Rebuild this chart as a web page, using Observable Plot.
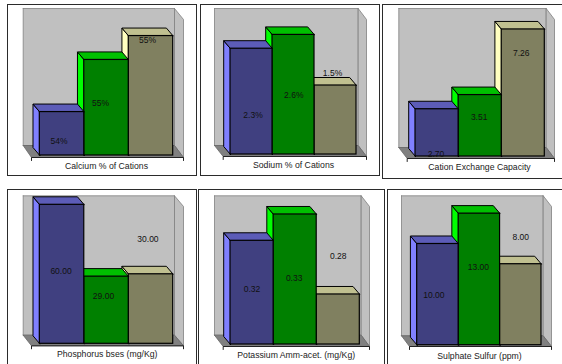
<!DOCTYPE html>
<html>
<head>
<meta charset="utf-8">
<script src="https://cdn.jsdelivr.net/npm/d3@7"></script>
<script src="https://cdn.jsdelivr.net/npm/@observablehq/plot@0.6"></script>
<style>
  html, body { margin: 0; padding: 0; width: 562px; height: 364px; overflow: hidden; background: #fff; }
  .frame { position: absolute; box-sizing: border-box; border: 1.5px solid #2b2b2b; }
  .panel { position: absolute; }
  .panel svg { display: block; background: transparent; overflow: visible; }
</style>
</head>
<body>
<script>
// Measured soil properties, one list per chart; bars run left to right.
const titles = [
  "Calcium % of Cations", "Sodium % of Cations", "Cation Exchange Capacity",
  "Phosphorus bses (mg/Kg)", "Potassium Amm-acet. (mg/Kg)", "Sulphate Sulfur (ppm)"
];
const calcium = [54.0, 54.96, 55.4];
const sodium = [2.3, 2.6, 1.5];
const cationExchange = [2.7, 3.51, 7.26];
const phosphorus = [60, 29, 30];
const potassium = [0.3151, 0.3345, 0.2755];
const sulphate = [10, 13, 8];
const series = [calcium, sodium, cationExchange, phosphorus, potassium, sulphate];

// Value axis extents; the calcium and potassium axes do not start at zero.
const axisFloors = [53.2, 0, 0, 0, 0.2386, 0];
const axisCeilings = [55.76, 3, 8, 60, 0.3426, 14];

const valueFormats = [
  v => v.toFixed(0) + "%", v => v.toFixed(1) + "%", v => v.toFixed(2),
  v => v.toFixed(2), v => v.toFixed(2), v => v.toFixed(2)
];

// Bar faces: front, top, left side.
const faceColors = [
  ["#404080", "#5c5cb8", "#8080ff"],
  ["#008000", "#00c000", "#00ff00"],
  ["#808060", "#c0c090", "#ffffc0"]
];

// Page layout of each chart: border box, bar span and wall outline, in page pixels.
const layouts = [
  {box: [7, 4, 190, 172],  bars: [39.3, 172.7], base: 155, top: 16, wall: [22.7, 174, 8, 145], front: [31, 183, 19, 157], title: [106, 166]},
  {box: [200, 4, 180, 172], bars: [230, 356], base: 154, top: 16, wall: [214, 357.7, 8, 145], front: [222.7, 366, 19, 156], title: [293, 165]},
  {box: [382, 4, 182, 175], bars: [415, 544.3], base: 156, top: 16, wall: [398.3, 545.7, 8, 147], front: [406.7, 554, 19, 158], title: [479, 167]},
  {box: [7, 189, 190, 178], bars: [39.3, 172.7], base: 343.3, top: 204.3, wall: [22.7, 174, 195.3, 334.7], front: [31, 183, 206, 345.3], title: [106.7, 354]},
  {box: [198, 189, 187, 178], bars: [230, 359.3], base: 344, top: 203, wall: [214, 360.7, 195.3, 334.7], front: [222.7, 369, 206, 346], title: [295.7, 355]},
  {box: [387, 189, 178, 178], bars: [416.7, 541], base: 344.7, top: 203, wall: [401, 542.7, 195.3, 335.3], front: [409, 551, 206, 346], title: [479, 356]}
];

// Horizontal shift and height above the bar base of each value label, in pixels.
const labelPlacement = [
  [[-3, 14], [-6, 52], [-3.5, 115]],
  [[1.5, 39], [0.3, 59], [-3, 81]],
  [[-1, 2], [-1, 39], [-2, 103]],
  [[-1, 73], [-3, 48], [-3, 105]],
  [[0, 55], [-1, 66], [0, 88]],
  [[-4, 50], [-1, 78], [0, 108]]
];

const barDepth = [6.8, 8];
const ink = "#111";

const polygon = (pts, fill, stroke, strokeWidth) =>
  Plot.line([...pts, pts[0]], {x: d => d[0], y: d => d[1], fill, stroke, strokeWidth, strokeLinejoin: "round"});

layouts.forEach((layout, i) => {
  const [left, top, width, height] = layout.box;
  const values = series[i];
  const floor = axisFloors[i], ceil = axisCeilings[i];

  // Conversions from page pixels to each axis's units, for the receding faces.
  const unitX = 3 / (layout.bars[1] - layout.bars[0]);
  const unitY = (ceil - floor) / (layout.base - layout.top);
  const X = px => (px - layout.bars[0]) * unitX;
  const Y = px => floor + (layout.base - px) * unitY;
  const depthX = barDepth[0] * unitX, depthY = barDepth[1] * unitY;

  const [wl, wr, wt, wb] = layout.wall;
  const [fl, fr, ft, fb] = layout.front;

  const marks = [
    polygon([[X(wl), Y(wt)], [X(wr), Y(wt)], [X(wr), Y(wb)], [X(wl), Y(wb)]], "#c0c0c0", "#808080", 0.8),
    polygon([[X(wr), Y(wt)], [X(fr), Y(ft)], [X(fr), Y(fb)], [X(wr), Y(wb)]], "#c0c0c0", "#808080", 0.8),
    polygon([[X(wl), Y(wb)], [X(wr), Y(wb)], [X(fr), Y(fb)], [X(fl), Y(fb)]], "#808080", "#666", 0.8),
    Plot.line([[X(fl), Y(fb + 3)], [X(fl), Y(fb)], [X(fr), Y(fb)], [X(fr), Y(fb + 3)]],
      {x: d => d[0], y: d => d[1], stroke: "#222", strokeWidth: 1})
  ];

  // Painted right to left so each bar hides the left face of its neighbour.
  for (let b = 2; b >= 0; b--) {
    const v = values[b];
    const [front, topFace, side] = faceColors[b];
    marks.push(
      polygon([[b, floor], [b, v], [b - depthX, v + depthY], [b - depthX, floor + depthY]], side, "#000", 1),
      polygon([[b, v], [b + 1, v], [b + 1 - depthX, v + depthY], [b - depthX, v + depthY]], topFace, "#000", 1),
      Plot.rect([v], {x1: b, x2: b + 1, y1: floor, y2: v, fill: front, stroke: "#000", strokeWidth: 1.2})
    );
  }

  values.forEach((v, b) => {
    const [dx, rise] = labelPlacement[i][b];
    marks.push(Plot.text([valueFormats[i](v)], {
      x: b + 0.5, y: floor, dx, dy: -rise, text: d => d, fontSize: 8.5, fill: ink
    }));
  });

  const barsMid = (layout.bars[0] + layout.bars[1]) / 2;
  marks.push(Plot.text([titles[i]], {
    x: 1.5, y: floor,
    dx: layout.title[0] - barsMid, dy: layout.title[1] - layout.base,
    text: d => d, fontSize: 8.7, fill: "#222"
  }));

  const chart = Plot.plot({
    width, height,
    margin: 0,
    x: {domain: [0, 3], range: [layout.bars[0] - left, layout.bars[1] - left], axis: null},
    y: {domain: [floor, ceil], range: [layout.base - top, layout.top - top], axis: null},
    style: {fontFamily: "'Liberation Sans', Arial, sans-serif", background: "transparent"},
    marks
  });

  const border = document.createElement("div");
  border.className = "frame";
  Object.assign(border.style, {left: left + "px", top: top + "px", width: width + "px", height: height + "px"});
  document.body.appendChild(border);

  const holder = document.createElement("div");
  holder.className = "panel";
  Object.assign(holder.style, {left: left + "px", top: top + "px", width: width + "px", height: height + "px"});
  holder.appendChild(chart);
  document.body.appendChild(holder);
});
</script>
</body>
</html>
